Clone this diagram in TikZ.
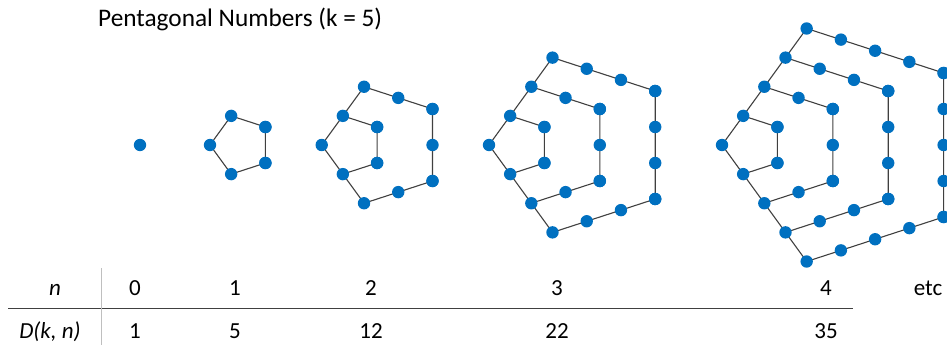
\documentclass[tikz,border=0pt]{standalone}
\usepackage{fontspec}
\setmainfont{Carlito}
\usetikzlibrary{calc}
\definecolor{dotblue}{HTML}{0070C0}
\definecolor{edgegray}{HTML}{404040}
\definecolor{rulegray}{HTML}{404040}
\definecolor{vrulegray}{HTML}{BFBFBF}
\begin{document}
\begin{tikzpicture}[x=1pt,y=-1pt,
  dot/.style={circle,fill=dotblue,inner sep=0pt,minimum size=12.4pt},
  edge/.style={draw=edgegray,line width=1.1pt},
  cell/.style={anchor=base,inner sep=0pt,font=\fontsize{23}{27}\selectfont},
  titletext/.style={anchor=base west,inner sep=0pt,font=\fontsize{25.3}{30}\selectfont}]
\useasboundingbox (0,0) rectangle (947,345);
\clip (0,0) rectangle (947,345);
\def\sd{36}
\def\cy{145}
% title
\node[titletext] (title) at (98,27) {Pentagonal Numbers (k = 5)};
% n = 0
\node[dot] (d0) at (140,\cy) {};
% coordinates and edges
\foreach \n/\lx in {1/210,2/321.7,3/489,4/722}{
  \coordinate (L\n) at (\lx,\cy);
  \foreach \k in {1,...,\n}{
    \coordinate (T\n-\k) at ({\lx+\k*\sd*cos(54)},{\cy-\k*\sd*sin(54)});
    \coordinate (U\n-\k) at ({\lx+\k*\sd*(cos(54)+cos(18))},{\cy-\k*\sd/2});
    \coordinate (R\n-\k) at ({\lx+\k*\sd*(cos(54)+cos(18))},{\cy+\k*\sd/2});
    \coordinate (B\n-\k) at ({\lx+\k*\sd*cos(54)},{\cy+\k*\sd*sin(54)});
    \draw[edge] (T\n-\k) -- (U\n-\k) -- (R\n-\k) -- (B\n-\k);
  }
  \draw[edge] (T\n-\n) -- (L\n) -- (B\n-\n);
}
% dots
\foreach \n in {1,2,3,4}{
  \node[dot] (dL\n) at (L\n) {};
  \foreach \k in {1,...,\n}{
    \foreach \j in {0,...,\k}{
      \node[dot] (da\n-\k-\j) at ($(T\n-\k)!{\j/\k}!(U\n-\k)$) {};
      \node[dot] (db\n-\k-\j) at ($(U\n-\k)!{\j/\k}!(R\n-\k)$) {};
      \node[dot] (dc\n-\k-\j) at ($(R\n-\k)!{\j/\k}!(B\n-\k)$) {};
    }
  }
}
% table rules
\coordinate (hl) at (8,308.3);
\coordinate (hr) at (853,308.3);
\coordinate (vt) at (101.7,268);
\coordinate (vb) at (101.7,345);
\draw[draw=rulegray,line width=1pt] (hl) -- (hr);
\draw[draw=vrulegray,line width=1pt] (vt) -- (vb);
% table text
\node[cell] (hn) at (55,295) {\itshape n};
\node[cell] (n0) at (135,295) {0};
\node[cell] (n1) at (235,295) {1};
\node[cell] (n2) at (371,295) {2};
\node[cell] (n3) at (557,295) {3};
\node[cell] (n4) at (826,295) {4};
\node[cell] (etc) at (928,295) {etc};
\node[cell] (hd) at (50,338.5) {\itshape D(k, n)};
\node[cell] (v0) at (135,338.5) {1};
\node[cell] (v1) at (235,338.5) {5};
\node[cell] (v2) at (371,338.5) {12};
\node[cell] (v3) at (557,338.5) {22};
\node[cell] (v4) at (826,338.5) {35};
\end{tikzpicture}
\end{document}
